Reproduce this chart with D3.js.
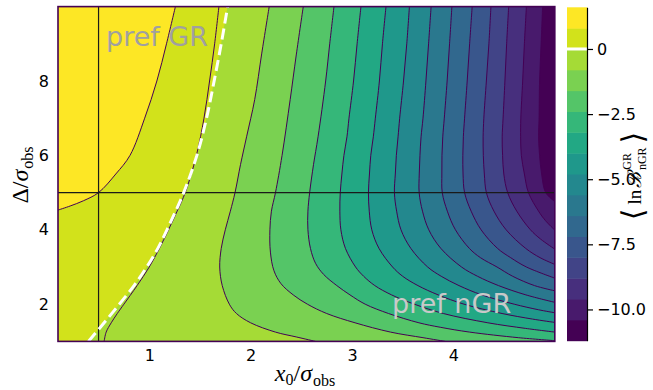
<!DOCTYPE html>
<html>
<head>
<meta charset="utf-8">
<script src="https://d3js.org/d3.v7.min.js"></script>
<style>
  body { margin: 0; background: #fff; }
  text { font-family: "DejaVu Sans", sans-serif; }
</style>
</head>
<body>
<div id="bayes_factor_map"></div>
<script>
// axis ranges and ticks
var xDomain = [0.1, 5.0];
var yDomain = [1.0, 10.0];
var xTicks = [1, 2, 3, 4];
var yTicks = [2, 4, 6, 8];
var cbTicks = [0, -2.5, -5.0, -7.5, -10.0];

// band edges of the filled contours of <ln B>
var bandEdges = [-11.2, -10.4, -9.6, -8.8, -8.0, -7.2, -6.4, -5.6, -4.8, -4.0, -3.2, -2.4, -1.6, -0.8, 0, 0.8, 1.6];

// contour lines, [x0/sigma, Delta/sigma], higher values on the left of the walk
var iso_m104 = [[5.0,4.76],[4.91,5.0],[4.87,5.5],[4.85,6.0],[4.84,6.5],[4.845,7.0],[4.85,8.0],[4.865,9.0],[4.88,10.0]];
var iso_m96 = [[5.0,3.99],[4.907,4.25],[4.84,4.5],[4.74,5.0],[4.70,5.5],[4.67,6.0],[4.663,6.5],[4.665,7.0],[4.683,8.0],[4.70,9.0],[4.72,10.0]];
var iso_m88 = [[5.0,3.48],[4.86,3.75],[4.76,4.0],[4.625,4.5],[4.535,5.0],[4.497,5.5],[4.485,6.0],[4.481,6.5],[4.49,7.0],[4.508,8.0],[4.525,9.0],[4.545,10.0]];
var iso_m80 = [[5.0,3.07],[4.855,3.25],[4.713,3.5],[4.52,4.0],[4.40,4.5],[4.325,5.0],[4.305,5.5],[4.295,6.0],[4.293,6.5],[4.30,7.0],[4.325,8.0],[4.35,9.0],[4.37,10.0]];
var iso_m72 = [[5.0,2.70],[4.72,3.0],[4.565,3.25],[4.435,3.5],[4.273,4.0],[4.175,4.5],[4.11,5.0],[4.095,5.5],[4.093,6.0],[4.098,6.5],[4.11,7.0],[4.136,8.0],[4.16,9.0],[4.185,10.0]];
var iso_m64 = [[5.0,2.36],[4.80,2.5],[4.585,2.75],[4.43,3.0],[4.267,3.25],[4.157,3.5],[4.02,4.0],[3.94,4.5],[3.89,5.0],[3.886,5.5],[3.887,6.0],[3.895,6.5],[3.91,7.0],[3.938,8.0],[3.962,9.0],[3.985,10.0]];
var iso_m56 = [[5.0,2.05],[4.715,2.25],[4.445,2.5],[4.238,2.75],[4.08,3.0],[3.876,3.5],[3.757,4.0],[3.695,4.5],[3.662,5.0],[3.663,5.5],[3.67,6.0],[3.681,6.5],[3.70,7.0],[3.729,8.0],[3.755,9.0],[3.78,10.0]];
var iso_m48 = [[5.0,1.77],[4.84,1.85],[4.6,2.0],[4.28,2.25],[4.055,2.5],[3.88,2.75],[3.746,3.0],[3.58,3.5],[3.483,4.0],[3.44,4.5],[3.418,5.0],[3.427,5.5],[3.437,6.0],[3.454,6.5],[3.47,7.0],[3.508,8.0],[3.54,9.0],[3.566,10.0]];
var iso_m40 = [[5.0,1.51],[4.78,1.6],[4.48,1.75],[4.105,2.0],[3.85,2.25],[3.65,2.5],[3.50,2.75],[3.40,3.0],[3.266,3.5],[3.195,4.0],[3.17,4.5],[3.162,5.0],[3.172,5.5],[3.185,6.0],[3.21,6.5],[3.23,7.0],[3.27,8.0],[3.30,9.0],[3.335,10.0]];
var iso_m32 = [[5.0,1.25],[4.71,1.35],[4.34,1.5],[3.9,1.75],[3.615,2.0],[3.39,2.25],[3.225,2.5],[3.115,2.75],[3.035,3.0],[2.935,3.5],[2.89,4.0],[2.88,4.5],[2.884,5.0],[2.90,5.5],[2.92,6.0],[2.95,6.5],[2.97,7.0],[3.015,8.0],[3.05,9.0],[3.088,10.0]];
var iso_m24 = [[5.0,1.02],[4.64,1.1],[4.16,1.25],[3.87,1.38],[3.66,1.5],[3.36,1.75],[3.13,2.0],[2.98,2.25],[2.85,2.5],[2.72,2.8],[2.64,3.1],[2.59,3.5],[2.565,4.0],[2.565,4.5],[2.582,5.0],[2.62,5.75],[2.665,6.5],[2.74,8.0],[2.78,9.0],[2.822,10.0]];
var iso_m16 = [[3.92,1.0],[3.70,1.1],[3.38,1.25],[3.03,1.5],[2.75,1.75],[2.56,2.0],[2.42,2.25],[2.30,2.55],[2.23,2.9],[2.195,3.4],[2.19,4.0],[2.205,4.5],[2.245,5.0],[2.31,6.0],[2.39,7.5],[2.45,8.7],[2.519,10.0]];
var iso_m08 = [[2.64,1.0],[2.45,1.12],[2.245,1.25],[2.0,1.5],[1.86,1.75],[1.79,2.0],[1.72,2.5],[1.695,3.0],[1.71,3.5],[1.75,4.0],[1.80,4.5],[1.846,5.0],[1.90,5.75],[1.96,6.5],[2.04,7.5],[2.11,8.75],[2.183,10.0]];
var iso_0 = [[0.40,1.0],[0.555,1.5],[0.705,2.0],[0.85,2.5],[0.975,3.0],[1.085,3.5],[1.175,4.0],[1.26,4.5],[1.34,5.0],[1.47,6.0],[1.565,7.0],[1.64,8.0],[1.71,9.0],[1.773,10.0]];
var iso_p08 = [[0.1,4.53],[0.22,4.64],[0.35,4.78],[0.5,5.0],[0.67,5.5],[0.81,6.0],[0.955,7.0],[1.075,8.0],[1.17,9.0],[1.258,10.0]];

var contourLevels = [-10.4, -9.6, -8.8, -8.0, -7.2, -6.4, -5.6, -4.8, -4.0, -3.2, -2.4, -1.6, -0.8, 0, 0.8];
var contourLines = [iso_m104, iso_m96, iso_m88, iso_m80, iso_m72, iso_m64, iso_m56, iso_m48, iso_m40, iso_m32, iso_m24, iso_m16, iso_m08, iso_0, iso_p08];

// thin dark curve running beside the dashed zero line
var darkCurve = [[0.555,1.0],[0.575,1.25],[0.625,1.5],[0.685,1.75],[0.75,2.0],[0.88,2.5],[1.0,3.0],[1.10,3.5],[1.19,4.0],[1.275,4.5],[1.355,5.0],[1.465,6.0],[1.54,7.0],[1.595,8.0],[1.645,9.0],[1.687,10.0]];

// reference point
var refX = 0.5, refY = 5.0;

// set the dimensions of the figure
var width = 653, height = 390;
var plot = {left: 58, right: 554.8, top: 6.6, bottom: 341.4};
var cbar = {left: 567, right: 587, top: 7.3, bottom: 340.7};

var svg = d3.select("#bayes_factor_map")
  .append("svg")
    .attr("width", width)
    .attr("height", height);

// scales
var x = d3.scaleLinear().domain(xDomain).range([plot.left, plot.right]);
var y = d3.scaleLinear().domain(yDomain).range([plot.bottom, plot.top]);
var vmin = bandEdges[0], vmax = bandEdges[bandEdges.length - 1];
var c = d3.scaleLinear().domain([vmin, vmax]).range([cbar.bottom, cbar.top]);
// band colours run from the first to the last band midpoint
var color = d3.scaleSequential(d3.interpolateViridis).domain([vmin + 0.4, vmax - 0.4]);

var smooth = d3.line()
  .x(function(d) { return x(d[0]); })
  .y(function(d) { return y(d[1]); })
  .curve(d3.curveCatmullRom.alpha(0.5));

// walk round the frame (counter-clockwise in data space) to close a region
var W = xDomain[1] - xDomain[0], H = yDomain[1] - yDomain[0], P = 2 * W + 2 * H;
var corners = [[xDomain[0], yDomain[0]], [xDomain[1], yDomain[0]], [xDomain[1], yDomain[1]], [xDomain[0], yDomain[1]]];
function perim(p) {
  var eps = 1e-6;
  if (Math.abs(p[1] - yDomain[0]) < eps) return p[0] - xDomain[0];
  if (Math.abs(p[0] - xDomain[1]) < eps) return W + p[1] - yDomain[0];
  if (Math.abs(p[1] - yDomain[1]) < eps) return W + H + xDomain[1] - p[0];
  return 2 * W + H + yDomain[1] - p[1];
}
function highSide(pts) {
  var tStart = perim(pts[0]), tEnd = perim(pts[pts.length - 1]);
  var span = (tStart - tEnd + P) % P;
  var walk = corners.map(function(k) { return {k: k, d: (perim(k) - tEnd + P) % P}; })
    .filter(function(o) { return o.d > 0 && o.d < span; })
    .sort(function(a, b) { return a.d - b.d; });
  var path = smooth(pts);
  walk.forEach(function(o) { path += "L" + x(o.k[0]) + "," + y(o.k[1]); });
  return path + "Z";
}

svg.append("clipPath").attr("id", "plotclip")
  .append("rect")
    .attr("x", plot.left).attr("y", plot.top)
    .attr("width", plot.right - plot.left).attr("height", plot.bottom - plot.top);

var g = svg.append("g").attr("clip-path", "url(#plotclip)");

// lowest band fills the whole panel, every level paints its upper side on top
g.append("rect")
  .attr("x", plot.left).attr("y", plot.top)
  .attr("width", plot.right - plot.left).attr("height", plot.bottom - plot.top)
  .attr("fill", color((bandEdges[0] + bandEdges[1]) / 2));

g.selectAll("path.band")
  .data(contourLevels.map(function(l, i) { return {level: l, pts: contourLines[i]}; }))
  .enter()
  .append("path")
    .attr("class", "band")
    .attr("d", function(d) { return highSide(d.pts); })
    .attr("fill", function(d) { return color(d.level + 0.4); });

// contour lines
g.selectAll("path.iso")
  .data(contourLevels.map(function(l, i) { return {level: l, pts: contourLines[i]}; })
    .filter(function(d) { return d.level !== 0; }))
  .enter()
  .append("path")
    .attr("class", "iso")
    .attr("d", function(d) { return smooth(d.pts); })
    .attr("fill", "none")
    .attr("stroke", "#440154")
    .attr("stroke-width", 1);

g.append("path")
  .attr("d", smooth(darkCurve))
  .attr("fill", "none")
  .attr("stroke", "#440154")
  .attr("stroke-width", 1);

// reference lines
g.append("line")
  .attr("x1", x(refX)).attr("x2", x(refX))
  .attr("y1", plot.top).attr("y2", plot.bottom)
  .attr("stroke", "#1a1a1a").attr("stroke-width", 1.2);
g.append("line")
  .attr("x1", plot.left).attr("x2", plot.right)
  .attr("y1", y(refY)).attr("y2", y(refY))
  .attr("stroke", "#1a1a1a").attr("stroke-width", 1.2);

// dashed zero contour
g.append("path")
  .attr("d", smooth(iso_0))
  .attr("fill", "none")
  .attr("stroke", "#fff")
  .attr("stroke-width", 3)
  .attr("stroke-dasharray", "11,5");

// annotations
g.append("text")
  .attr("x", 106).attr("y", 46)
  .style("font-size", "27px")
  .attr("fill", "#a0a0a0")
  .text("pref GR");
g.append("text")
  .attr("x", 392).attr("y", 313)
  .style("font-size", "27px")
  .attr("fill", "#c9c9c9")
  .text("pref nGR");

// frame
svg.append("rect")
  .attr("x", plot.left).attr("y", plot.top)
  .attr("width", plot.right - plot.left).attr("height", plot.bottom - plot.top)
  .attr("fill", "none")
  .attr("stroke", "#440154")
  .attr("stroke-width", 1.6);

// Add X axis
var xAxis = svg.append("g")
  .attr("transform", "translate(0," + plot.bottom + ")")
  .call(d3.axisBottom(x).tickValues(xTicks).tickSize(0).tickPadding(8).tickFormat(d3.format("d")));
xAxis.select(".domain").remove();
xAxis.selectAll("text").style("font-family", "DejaVu Sans").style("font-size", "16px").attr("fill", "#000");

// Add Y axis
var yAxis = svg.append("g")
  .attr("transform", "translate(" + plot.left + ",0)")
  .call(d3.axisLeft(y).tickValues(yTicks).tickSize(0).tickPadding(9).tickFormat(d3.format("d")));
yAxis.select(".domain").remove();
yAxis.selectAll("text").style("font-family", "DejaVu Sans").style("font-size", "16px").attr("fill", "#000");

// colorbar
svg.append("g").selectAll("rect")
  .data(d3.range(bandEdges.length - 1))
  .enter()
  .append("rect")
    .attr("x", cbar.left)
    .attr("width", cbar.right - cbar.left)
    .attr("y", function(i) { return c(bandEdges[i + 1]); })
    .attr("height", function(i) { return c(bandEdges[i]) - c(bandEdges[i + 1]) + 0.5; })
    .attr("fill", function(i) { return color((bandEdges[i] + bandEdges[i + 1]) / 2); });

svg.append("rect")
  .attr("x", cbar.left).attr("width", cbar.right - cbar.left)
  .attr("y", c(0) - 1.5).attr("height", 3)
  .attr("fill", "#fff");

var cAxis = svg.append("g")
  .attr("transform", "translate(" + cbar.right + ",0)")
  .call(d3.axisRight(c).tickValues(cbTicks).tickSize(6).tickSizeOuter(0).tickPadding(4)
    .tickFormat(function(d) { return d === 0 ? "0" : d3.format(".1f")(d); }));
cAxis.select(".domain").attr("stroke", "#000").attr("stroke-width", 1.2);
cAxis.selectAll("line").attr("stroke", "#000").attr("stroke-width", 1.2);
cAxis.selectAll("text").style("font-family", "DejaVu Sans").style("font-size", "16px").attr("fill", "#000");

// axis labels
var xl = svg.append("text")
  .attr("x", 305).attr("y", 381)
  .attr("text-anchor", "middle")
  .style("font-family", "Liberation Serif, DejaVu Serif, serif")
  .style("font-size", "24px");
xl.append("tspan").style("font-style", "italic").text("x");
xl.append("tspan").attr("dy", 4).style("font-size", "16px").text("0");
xl.append("tspan").attr("dy", -4).text("/");
xl.append("tspan").style("font-style", "italic").text("σ");
xl.append("tspan").attr("dy", 5).attr("dx", 1).style("font-size", "16px").text("obs");

var yl = svg.append("text")
  .attr("transform", "translate(28,175) rotate(-90)")
  .attr("text-anchor", "middle")
  .style("font-family", "Liberation Serif, DejaVu Serif, serif")
  .style("font-size", "24px");
yl.append("tspan").text("Δ");
yl.append("tspan").text("/");
yl.append("tspan").style("font-style", "italic").text("σ");
yl.append("tspan").attr("dy", 5).attr("dx", 1).style("font-size", "16px").text("obs");

var cl = svg.append("text")
  .attr("transform", "translate(641,176) rotate(-90)")
  .attr("text-anchor", "middle")
  .style("font-family", "Liberation Serif, DejaVu Serif, serif")
  .style("font-size", "19px");
cl.append("tspan").style("font-family", "DejaVu Sans").style("font-size", "30px").attr("dy", 2).text("⟨");
cl.append("tspan").attr("dy", -2).attr("dx", 4).text("ln");
cl.append("tspan").attr("dx", 2).style("font-style", "italic").text("ℬ");
cl.append("tspan").attr("dy", -10).attr("dx", 2).style("font-size", "12px").text("GR");
cl.append("tspan").attr("dx", -17).attr("dy", 15).style("font-size", "12px").text("nGR");
cl.append("tspan").style("font-family", "DejaVu Sans").style("font-size", "30px").attr("dx", 4).attr("dy", -3).text("⟩");
</script>
</body>
</html>
